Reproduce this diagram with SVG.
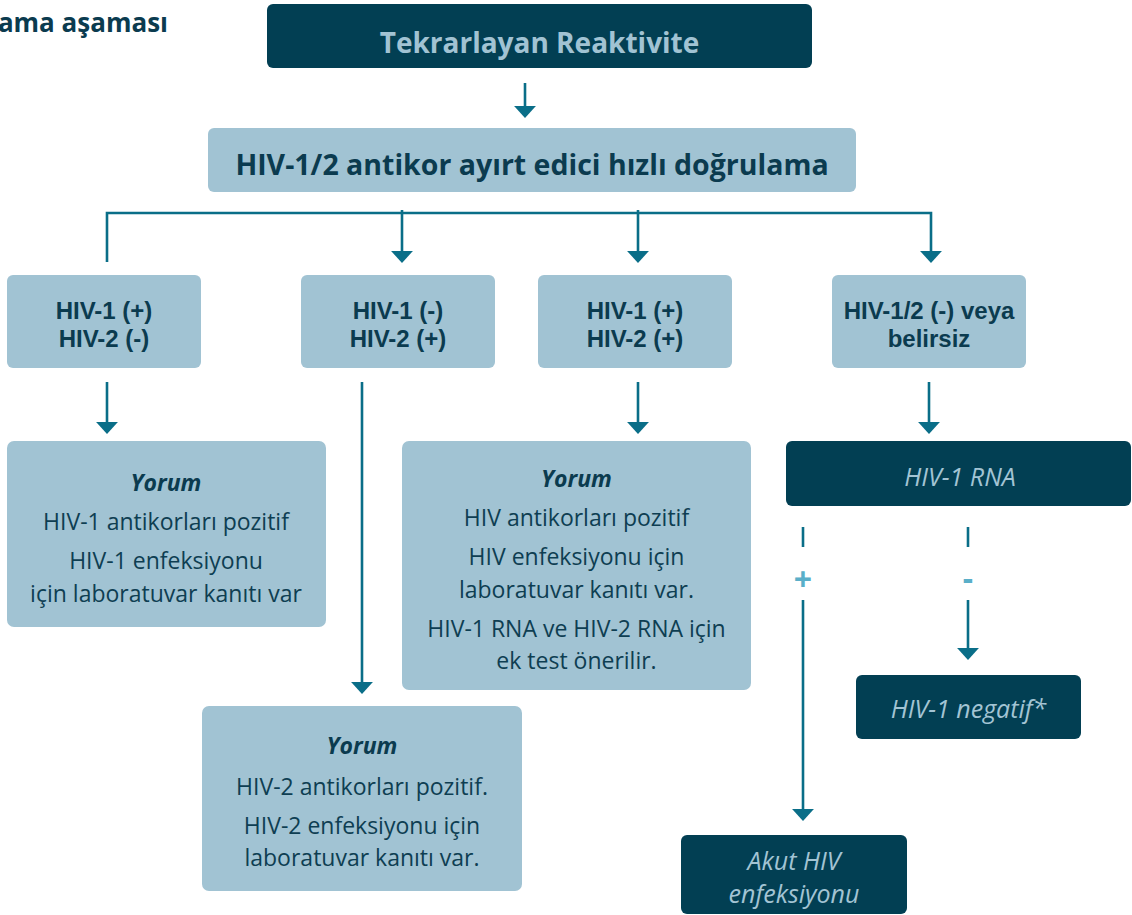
<svg xmlns="http://www.w3.org/2000/svg" width="1132" height="915" viewBox="0 0 1132 915">
<defs>
<marker id="ah" markerUnits="userSpaceOnUse" markerWidth="12" markerHeight="22" viewBox="0 -10 11 20" refX="0" refY="0" orient="auto">
<path d="M0,-10 L11,0 L0,10 Z" fill="#0A6E88"/>
</marker>
<style>
.dk{fill:#023F53}
.lt{fill:#A1C3D3}
.t{font-family:"Open Sans","Liberation Sans",sans-serif;text-anchor:middle}
.b{font-weight:700;fill:#0B3B4F}
.b2{font-family:"Liberation Sans","Open Sans",sans-serif;font-weight:700;fill:#0B3B4F;font-size:24px;text-anchor:middle}
.r{font-size:23px;fill:#0E3E52}
.yi{font-size:23px;font-weight:700;font-style:italic;fill:#0B3B4F}
.li{font-style:italic;fill:#A3C4D4;font-size:25px}
.c{stroke:#0A6E88;stroke-width:2.6;fill:none}
.tick{stroke:#0A6E88;stroke-width:2.6}
.pm{font-family:"Open Sans","Liberation Sans",sans-serif;font-weight:700;font-size:32px;fill:#5AAFC9;text-anchor:middle}
</style>
</defs>
<rect width="1132" height="915" fill="#ffffff"/>
<text x="168" y="32" font-family="Open Sans, Liberation Sans, sans-serif" font-weight="700" font-size="26" fill="#0B3B4F" text-anchor="end">ama aşaması</text>

<g id="connectors">
<path class="c" d="M525,83 V106" marker-end="url(#ah)"/>
<path class="c" d="M107,262 V213 H931 V251" marker-end="url(#ah)"/>
<path class="c" d="M402,210 V251" marker-end="url(#ah)"/>
<path class="c" d="M638,210 V251" marker-end="url(#ah)"/>
<path class="c" d="M107,382 V422" marker-end="url(#ah)"/>
<path class="c" d="M362,382 V682" marker-end="url(#ah)"/>
<path class="c" d="M638,382 V422" marker-end="url(#ah)"/>
<path class="c" d="M929,382 V422" marker-end="url(#ah)"/>
<line class="tick" x1="803" y1="527" x2="803" y2="547"/>
<line class="tick" x1="968" y1="527" x2="968" y2="547"/>
<text class="pm" x="803" y="591">+</text>
<text class="pm" x="968" y="590">-</text>
<path class="c" d="M803,600 V809" marker-end="url(#ah)"/>
<path class="c" d="M968,600 V648" marker-end="url(#ah)"/>
</g>

<g id="n-tekrar">
<rect class="dk" x="267" y="4" width="545" height="64" rx="6"/>
<text class="t" x="539.5" y="53" font-size="28" font-weight="700" fill="#A1C3D3">Tekrarlayan Reaktivite</text>
</g>

<g id="n-dogrulama">
<rect class="lt" x="208" y="128" width="648" height="64" rx="6"/>
<text class="t b" x="532" y="175" font-size="28.5">HIV-1/2 antikor ayırt edici hızlı doğrulama</text>
</g>

<g id="n-h1p-h2n">
<rect class="lt" x="7" y="275" width="194" height="93" rx="6"/>
<text class="b2" x="104" y="319">HIV-1 (+)</text>
<text class="b2" x="104" y="347">HIV-2 (-)</text>
</g>

<g id="n-h1n-h2p">
<rect class="lt" x="301" y="275" width="194" height="93" rx="6"/>
<text class="b2" x="398" y="319">HIV-1 (-)</text>
<text class="b2" x="398" y="347">HIV-2 (+)</text>
</g>

<g id="n-h1p-h2p">
<rect class="lt" x="538" y="275" width="194" height="93" rx="6"/>
<text class="b2" x="635" y="319">HIV-1 (+)</text>
<text class="b2" x="635" y="347">HIV-2 (+)</text>
</g>

<g id="n-neg-belirsiz">
<rect class="lt" x="832" y="275" width="194" height="93" rx="6"/>
<text class="b2" x="929" y="319">HIV-1/2 (-) veya</text>
<text class="b2" x="929" y="347">belirsiz</text>
</g>

<g id="n-yorum1">
<rect class="lt" x="7" y="441" width="319" height="186" rx="7"/>
<text class="t yi" x="166" y="491">Yorum</text>
<text class="t r" x="166" y="530">HIV-1 antikorları pozitif</text>
<text class="t r" x="166" y="569">HIV-1 enfeksiyonu</text>
<text class="t r" x="166" y="602">için laboratuvar kanıtı var</text>
</g>

<g id="n-yorum3">
<rect class="lt" x="402" y="441" width="349" height="249" rx="7"/>
<text class="t yi" x="576.5" y="487">Yorum</text>
<text class="t r" x="576.5" y="526">HIV antikorları pozitif</text>
<text class="t r" x="576.5" y="565">HIV enfeksiyonu için</text>
<text class="t r" x="576.5" y="598">laboratuvar kanıtı var.</text>
<text class="t r" x="576.5" y="637" font-size="23.5">HIV-1 RNA ve HIV-2 RNA için</text>
<text class="t r" x="576.5" y="669">ek test önerilir.</text>
</g>

<g id="n-yorum2">
<rect class="lt" x="202" y="706" width="320" height="185" rx="7"/>
<text class="t yi" x="362" y="754">Yorum</text>
<text class="t r" x="362" y="795">HIV-2 antikorları pozitif.</text>
<text class="t r" x="362" y="834">HIV-2 enfeksiyonu için</text>
<text class="t r" x="362" y="866">laboratuvar kanıtı var.</text>
</g>

<g id="n-rna">
<rect class="dk" x="786" y="441" width="345" height="65" rx="6"/>
<text class="t li" x="960" y="486">HIV-1 RNA</text>
</g>

<g id="n-negatif">
<rect class="dk" x="856" y="675" width="225" height="64" rx="6"/>
<text class="t li" x="968.5" y="718">HIV-1 negatif*</text>
</g>

<g id="n-akut">
<rect class="dk" x="681" y="835" width="226" height="79" rx="6"/>
<text class="t li" x="794" y="870">Akut HIV</text>
<text class="t li" x="794" y="903">enfeksiyonu</text>
</g>
</svg>
